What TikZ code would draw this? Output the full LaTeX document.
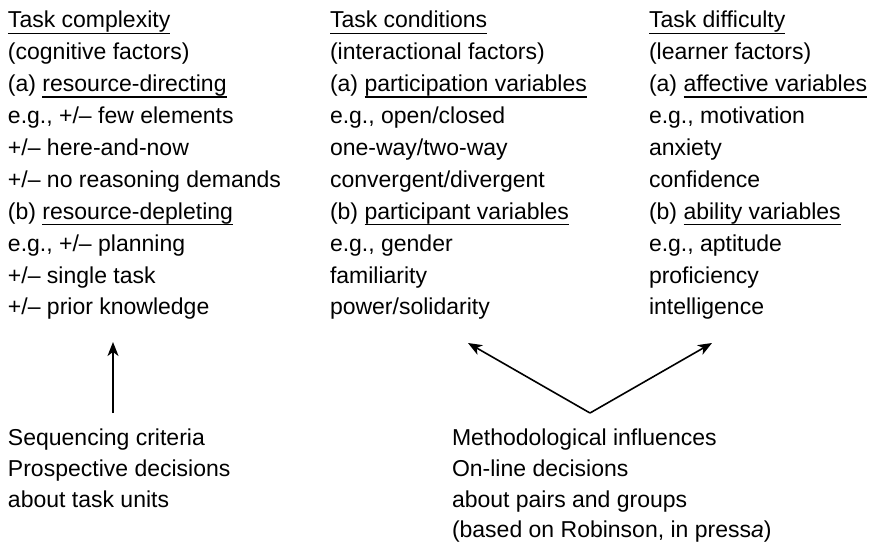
\documentclass[tikz,border=0pt]{standalone}
\usepackage{fontspec}
\setmainfont{Liberation Sans}
\usetikzlibrary{arrows.meta}
\newsavebox\ulbox
\newcommand\ulin[1]{\sbox\ulbox{#1}\rlap{\rule[-6.25pt]{\wd\ulbox}{1.5pt}}\usebox\ulbox}
\tikzset{
  txt/.style={anchor=base west, inner sep=0pt, outer sep=0pt, font=\fontsize{23}{28}\selectfont},
  arr/.style={line width=1.6pt, -{Stealth[length=14pt,width=11pt,inset=4pt]}}
}
\begin{document}
\begin{tikzpicture}[x=1pt,y=-1pt]
\useasboundingbox (0,0) rectangle (870,542);
% column 1
\node[txt] (a1) at (8,27.8) {\ulin{Task complexity}};
\node[txt] (a2) at (8,59.7) {(cognitive factors)};
\node[txt] (a3) at (8,91.6) {(a) \ulin{resource-directing}};
\node[txt] (a4) at (8,123.5) {e.g., +/– few elements};
\node[txt] (a5) at (8,155.4) {+/– here-and-now};
\node[txt] (a6) at (8,187.3) {+/– no reasoning demands};
\node[txt] (a7) at (8,219.2) {(b) \ulin{resource-depleting}};
\node[txt] (a8) at (8,251.1) {e.g., +/– planning};
\node[txt] (a9) at (8,283.0) {+/– single task};
\node[txt] (a10) at (8,314.9) {+/– prior knowledge};
% column 2
\node[txt] (b1) at (330,27.8) {\ulin{Task conditions}};
\node[txt] (b2) at (330,59.7) {(interactional factors)};
\node[txt] (b3) at (330,91.6) {(a) \ulin{participation variables}};
\node[txt] (b4) at (330,123.5) {e.g., open/closed};
\node[txt] (b5) at (330,155.4) {one-way/two-way};
\node[txt] (b6) at (330,187.3) {convergent/divergent};
\node[txt] (b7) at (330,219.2) {(b) \ulin{participant variables}};
\node[txt] (b8) at (330,251.1) {e.g., gender};
\node[txt] (b9) at (330,283.0) {familiarity};
\node[txt] (b10) at (330,314.9) {power/solidarity};
% column 3
\node[txt] (c1) at (649,27.8) {\ulin{Task difficulty}};
\node[txt] (c2) at (649,59.7) {(learner factors)};
\node[txt] (c3) at (649,91.6) {(a) \ulin{affective variables}};
\node[txt] (c4) at (649,123.5) {e.g., motivation};
\node[txt] (c5) at (649,155.4) {anxiety};
\node[txt] (c6) at (649,187.3) {confidence};
\node[txt] (c7) at (649,219.2) {(b) \ulin{ability variables}};
\node[txt] (c8) at (649,251.1) {e.g., aptitude};
\node[txt] (c9) at (649,283.0) {proficiency};
\node[txt] (c10) at (649,314.9) {intelligence};
% bottom left
\node[txt] (d1) at (8,445.5) {Sequencing criteria};
\node[txt] (d2) at (8,476.3) {Prospective decisions};
\node[txt] (d3) at (8,507.1) {about task units};
% bottom right
\node[txt] (e1) at (452,445.5) {Methodological influences};
\node[txt] (e2) at (452,476.3) {On-line decisions};
\node[txt] (e3) at (452,507.1) {about pairs and groups};
\node[txt] (e4) at (452,537.9) {(based on Robinson, in press\textit{a})};
% arrows
\coordinate (s1) at (113,413);
\coordinate (t1) at (113,342);
\coordinate (v0) at (590,413);
\coordinate (vl) at (468,343);
\coordinate (vr) at (712,343);
\draw[arr] (s1) -- (t1);
\draw[arr] (v0) -- (vl);
\draw[arr] (v0) -- (vr);
\end{tikzpicture}
\end{document}
